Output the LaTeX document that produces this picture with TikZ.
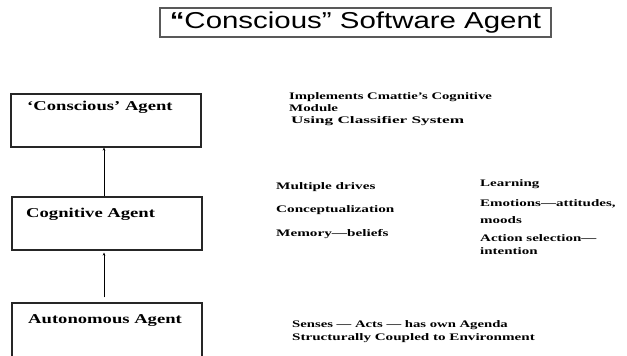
\documentclass[tikz,border=0pt]{standalone}
\usepackage{fontspec}
\usepackage{graphicx}
\usetikzlibrary{arrows.meta}
\setmainfont{Liberation Serif}
\newfontfamily\titlefont{Liberation Sans}
\newcommand\hsc[2]{\scalebox{#1}[1]{#2}}
\begin{document}
\begin{tikzpicture}[x=1pt,y=-1pt,
  agentbox/.style={draw=black!85,line width=1.2pt,minimum width=190pt,minimum height=53pt,inner sep=0pt},
  boxlabel/.style={anchor=base west,inner sep=0pt,font=\fontsize{13.5}{15}\selectfont\bfseries},
  note/.style={anchor=base west,inner sep=0pt,font=\fontsize{10}{11}\selectfont\bfseries},
  arr/.style={line width=0.8pt,-{Stealth[length=3pt,width=2.6pt]}}]
\useasboundingbox (0,0) rectangle (627,356);
\clip (0,0) rectangle (627,356);
% title
\node[draw=black!65,line width=1.8pt,minimum width=391pt,minimum height=29pt,inner sep=0pt,
      font=\titlefont\fontsize{23}{25}\selectfont] (title) at (355.5,22.5)
  {\hsc{1.28}{{\bfseries “}Conscious” Software Agent}};
% boxes
\node[agentbox] (con) at (106,120.5) {};
\node[agentbox] (cog) at (107,223.5) {};
\node[agentbox,minimum height=70pt] (aut) at (107,338) {};
\node[boxlabel] (conl) at (27,110) {\hsc{1.38}{‘Conscious’ Agent}};
\node[boxlabel] (cogl) at (26,217) {\hsc{1.38}{Cognitive Agent}};
\node[boxlabel] (autl) at (28,323) {\hsc{1.38}{Autonomous Agent}};
% arrows
\draw[arr] ([xshift=-3pt]cog.north) -- ([xshift=-2pt]con.south);
\draw[arr,shorten <=5pt,shorten >=2pt] ([xshift=-3pt]aut.north) -- ([xshift=-3pt]cog.south);
% notes top
\node[note] (n1) at (289,99.3) {\hsc{1.47}{Implements Cmattie’s Cognitive}};
\node[note] (n2) at (289,111.7) {\hsc{1.49}{Module}};
\node[note] (n3) at (291,123.3) {\hsc{1.72}{Using Classifier System}};
% notes middle
\node[note] (m1) at (276,189.3) {\hsc{1.52}{Multiple drives}};
\node[note] (m2) at (276,212.7) {\hsc{1.52}{Conceptualization}};
\node[note] (m3) at (276,236) {\hsc{1.52}{Memory—beliefs}};
\node[note] (r1) at (480,186.7) {\hsc{1.5}{Learning}};
\node[note] (r2) at (480,206.7) {\hsc{1.5}{Emotions—attitudes,}};
\node[note] (r3) at (480,223.3) {\hsc{1.5}{moods}};
\node[note] (r4) at (480,241.7) {\hsc{1.5}{Action selection—}};
\node[note] (r5) at (480,254.3) {\hsc{1.5}{intention}};
% notes bottom
\node[note] (b1) at (292,327.7) {\hsc{1.47}{Senses — Acts — has own Agenda}};
\node[note] (b2) at (292,340.7) {\hsc{1.51}{Structurally Coupled to Environment}};
\end{tikzpicture}
\end{document}
